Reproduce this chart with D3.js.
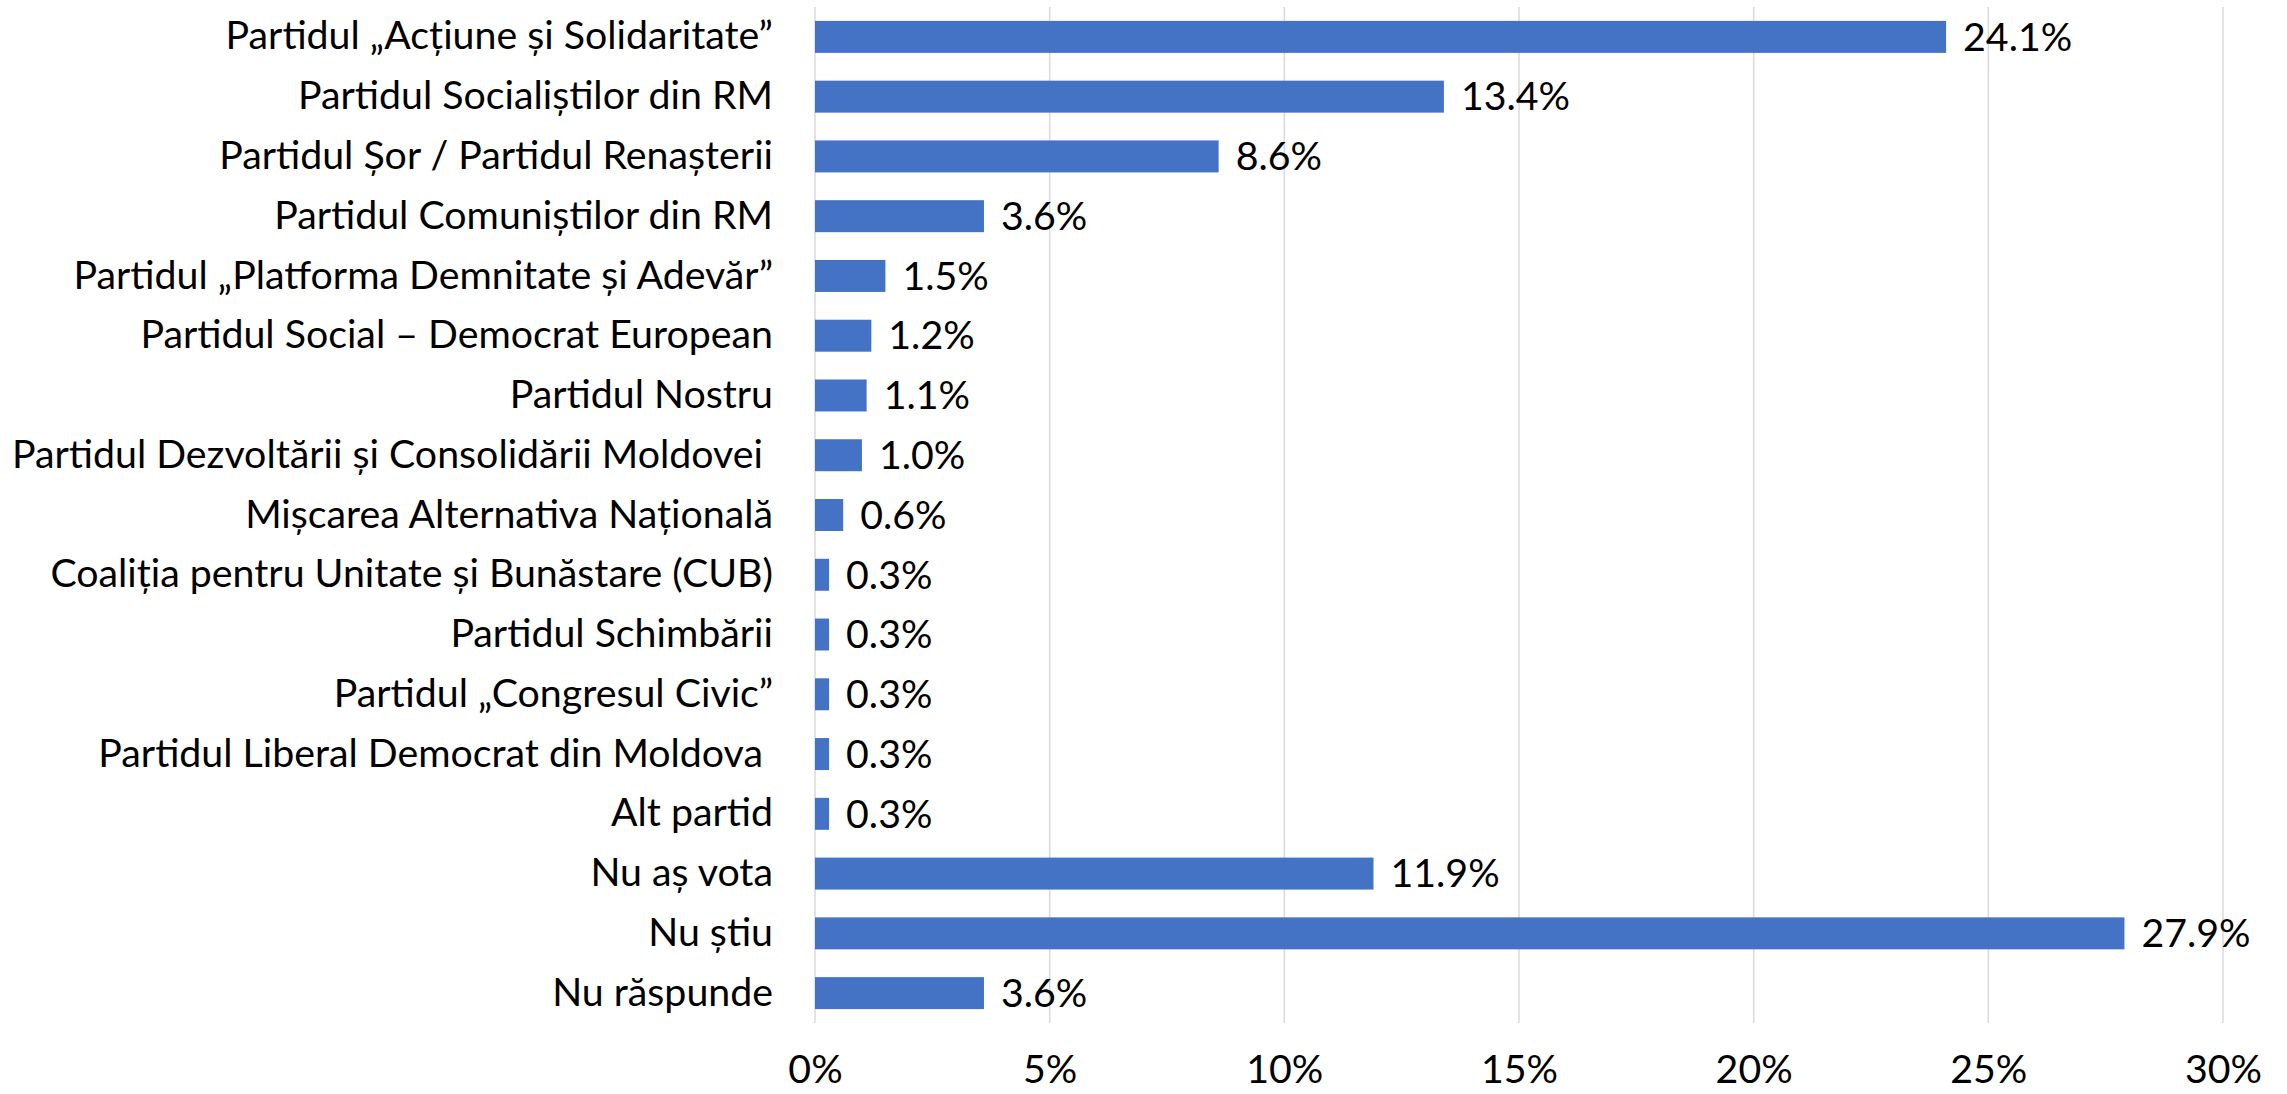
<!DOCTYPE html>
<html><head><meta charset="utf-8">
<script src="https://cdn.jsdelivr.net/npm/d3@7"></script>
<style>
html,body{margin:0;padding:0;background:#fff;}
text{font-family:Lato,"Open Sans",sans-serif;fill:#000;}
</style></head>
<body>
<svg id="chart" width="2287" height="1094"></svg>
<script>
const categories = [
  "Partidul „Acțiune și Solidaritate”",
  "Partidul Socialiștilor din RM",
  "Partidul Șor / Partidul Renașterii",
  "Partidul Comuniștilor din RM",
  "Partidul „Platforma Demnitate și Adevăr”",
  "Partidul Social – Democrat European",
  "Partidul Nostru",
  "Partidul Dezvoltării și Consolidării Moldovei ",
  "Mișcarea Alternativa Națională",
  "Coaliția pentru Unitate și Bunăstare (CUB)",
  "Partidul Schimbării",
  "Partidul „Congresul Civic”",
  "Partidul Liberal Democrat din Moldova ",
  "Alt partid",
  "Nu aș vota",
  "Nu știu",
  "Nu răspunde"
];
const values = [24.1, 13.4, 8.6, 3.6, 1.5, 1.2, 1.1, 1.0, 0.6, 0.3, 0.3, 0.3, 0.3, 0.3, 11.9, 27.9, 3.6];
const tickValues = [0, 5, 10, 15, 20, 25, 30];

(function () {
const svg = d3.select("#chart");
const mLeft = 815, mRight = 2223, mTop = 7, mBottom = 1023;

// fit font size so text widths resemble reference
const probe = svg.append("text").attr("font-size", 40).text("Partidul Dezvoltării și Consolidării Moldovei");
const w40 = probe.node().getComputedTextLength();
probe.remove();
const fs = Math.min(44, 40 * 751 / w40);

const x = d3.scaleLinear().domain([0, 30]).range([mLeft, mRight]);
const y = d3.scaleBand().domain(categories).range([mTop, mBottom]).paddingInner(0.465).paddingOuter(0.2325);

// gridlines
svg.append("g").selectAll("line").data(tickValues).join("line")
  .attr("x1", d => x(d)).attr("x2", d => x(d))
  .attr("y1", mTop).attr("y2", mBottom)
  .attr("stroke", "#d9d9d9").attr("stroke-width", 1.5);

// bars
svg.append("g").selectAll("rect").data(values).join("rect")
  .attr("x", x(0))
  .attr("y", (d, i) => y(categories[i]))
  .attr("width", d => x(d) - x(0))
  .attr("height", y.bandwidth())
  .attr("fill", "#4472C4");

// value labels
svg.append("g").selectAll("text").data(values).join("text")
  .attr("x", d => x(d) + 17)
  .attr("y", (d, i) => y(categories[i]) + y.bandwidth() / 2)
  .attr("dy", "0.35em")
  .attr("font-size", fs)
  .text(d => d.toFixed(1) + "%");

// category axis
const yAxis = d3.axisLeft(y).tickSize(0).tickPadding(0);
const gy = svg.append("g").attr("transform", `translate(${mLeft - 42},0)`).call(yAxis);
gy.select(".domain").remove();
gy.selectAll("text").attr("font-size", fs).attr("font-family", "Lato, 'Open Sans', sans-serif")
  .attr("fill", "#000").style("white-space", "pre");

// value axis
const xAxis = d3.axisBottom(x).tickValues(tickValues).tickSize(0).tickPadding(0).tickFormat(d => d + "%");
const gx = svg.append("g").attr("transform", `translate(0,1083)`).call(xAxis);
gx.select(".domain").remove();
gx.selectAll("text").attr("font-size", fs).attr("font-family", "Lato, 'Open Sans', sans-serif")
  .attr("fill", "#000").attr("y", 0).attr("dy", "0");
})();
</script>
</body></html>
